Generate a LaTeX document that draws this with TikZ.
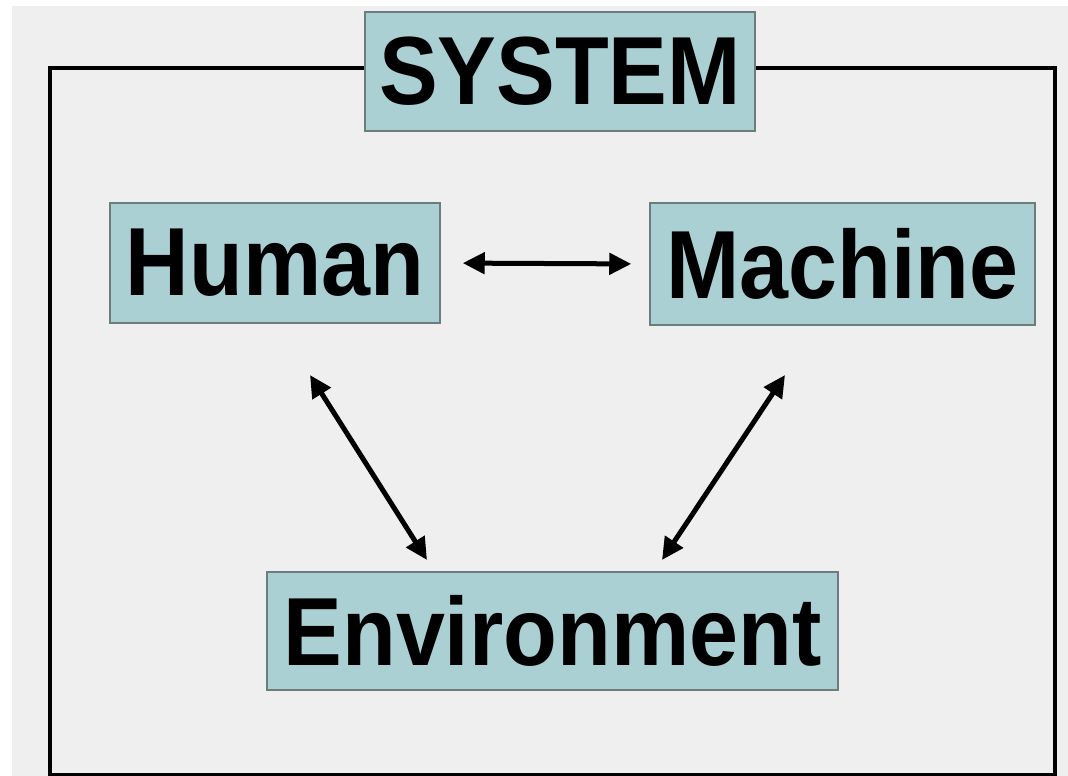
\documentclass[tikz,border=0pt]{standalone}
\usepackage{fontspec}
\setmainfont{Liberation Sans}
\usetikzlibrary{arrows.meta}
\definecolor{sysPaper}{HTML}{EFEFEF}
\definecolor{sysBox}{HTML}{AAD0D3}
\definecolor{sysEdge}{HTML}{6E7C7E}
\newcommand{\tallword}[1]{\scalebox{1}[1.1]{#1}}

\begin{document}
\begin{tikzpicture}[x=1pt,y=-1pt,line join=miter]
\useasboundingbox (0,0) rectangle (1068,776);
\path[fill=white] (0,0) rectangle (1068,776);
\path[fill=sysPaper] (12,6) rectangle (1068,776);
\tikzset{frame/.style={draw=black,line width=4pt},box/.style={draw=sysEdge,fill=sysBox,line width=1.5pt,inner sep=0pt,font=\fontsize{88}{96}\selectfont\bfseries},link/.style={draw=black,line width=5pt,{Triangle[length=22pt,width=21pt]}-{Triangle[length=22pt,width=21pt]}}}
\draw[frame] (50,68) rectangle (1055,775);
\node[box,minimum width=390pt,minimum height=119pt] (system) at (560,71.5) {\tallword{SYSTEM}};
\node[box,minimum width=330pt,minimum height=120pt] (human) at (275,263) {\tallword{Human}};
\node[box,minimum width=385pt,minimum height=122pt] (machine) at (842.5,264) {\tallword{Machine}};
\node[box,minimum width=571pt,minimum height=118pt] (environment) at (552.5,631) {\tallword{Environment}};
\coordinate (humanLow) at (310,375); \coordinate (envLeft) at (427,560);
\coordinate (machineLow) at (785,375); \coordinate (envRight) at (662,560);
\draw[link,shorten <=22pt,shorten >=18pt] (human.east) -- (machine.west);
\draw[link] (humanLow) -- (envLeft);
\draw[link] (machineLow) -- (envRight);
\end{tikzpicture}
\end{document}
